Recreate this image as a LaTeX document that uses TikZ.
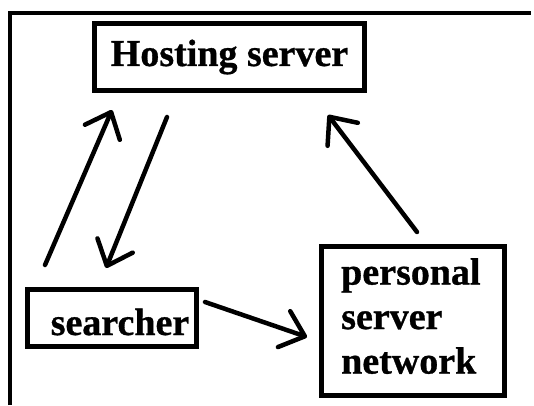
\documentclass[tikz,border=0pt]{standalone}
\usepackage{fontspec}
\setmainfont{Liberation Serif}
\newfontfamily\heavyfont[FakeBold=0.8]{Liberation Serif Bold}
\usetikzlibrary{arrows.meta}
\begin{document}
\begin{tikzpicture}[x=1pt,y=-1pt,
  box/.style={draw, line width=5pt, inner sep=0pt},
  lbl/.style={font=\heavyfont\fontsize{38}{44.5}\selectfont, inner sep=0pt},
  arr/.style={line width=4.5pt, line cap=round, line join=round,
    -{Straight Barb[length=22pt,width=38pt,line cap=round,line join=round]}}
]
\useasboundingbox (0,0) rectangle (534,405);
\fill[white] (0,0) rectangle (534,405);
% outer frame (only left and top edges visible)
\draw[line width=4.5pt] (10,405) -- (10,13) -- (531,13);

\node[box, lbl, minimum width=270pt, minimum height=67pt] (host) at (229.5,57) {Hosting server};
\node[box, minimum width=169pt, minimum height=57.5pt] (searcher) at (112,317.8) {};
\node[lbl, anchor=base] (searchertext) at (120,335) {searcher};
\node[box, minimum width=182.4pt, minimum height=149pt] (pnet) at (413,321.2) {};
\node[lbl, anchor=north west, align=left] (pnettext) at (341,258) {personal\\server\\network};

\coordinate (a1s) at (45,265);  \coordinate (a1e) at (112,110);
\coordinate (a2s) at (167,117); \coordinate (a2e) at (106,268);
\coordinate (a3s) at (417,232); \coordinate (a3e) at (328,115);
\coordinate (a4s) at (205,302); \coordinate (a4e) at (307,337);

\draw[arr] (a1s) -- (a1e);
\draw[arr] (a2s) -- (a2e);
\draw[arr] (a3s) -- (a3e);
\draw[arr] (a4s) -- (a4e);
\end{tikzpicture}
\end{document}
